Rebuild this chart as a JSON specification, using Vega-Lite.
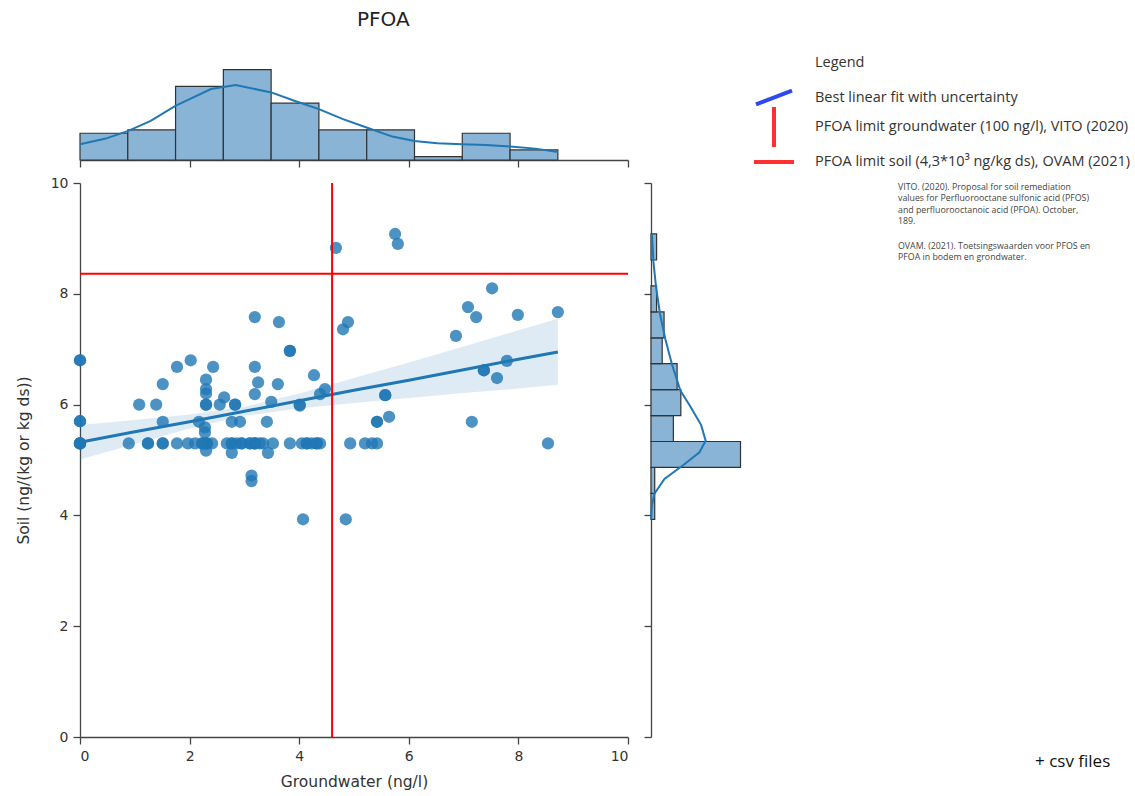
{
  "$schema": "https://vega.github.io/schema/vega-lite/v6.json",
  "background": "white",
  "padding": {"left": 16, "top": 10, "right": 0, "bottom": 0},
  "title": {"text": "PFOA", "frame": "group", "anchor": "start", "dx": 277, "offset": 26, "font": "DejaVu Sans", "fontSize": 20, "fontWeight": "normal", "color": "#222"},
  "datasets": {
    "points": [
      {"gw":0,"soil":6.8},{"gw":0,"soil":5.7},{"gw":0,"soil":5.3},{"gw":0,"soil":5.3},{"gw":0,"soil":5.3},{"gw":0,"soil":5.3},{"gw":0,"soil":6.8},{"gw":0,"soil":5.7},
      {"gw":0.89,"soil":5.3},{"gw":1.08,"soil":6.0},{"gw":1.24,"soil":5.3},{"gw":1.39,"soil":6.0},{"gw":1.51,"soil":6.37},{"gw":1.51,"soil":5.69},{"gw":1.51,"soil":5.3},{"gw":1.24,"soil":5.3},{"gw":1.51,"soil":5.3},
      {"gw":1.77,"soil":6.68},{"gw":1.77,"soil":5.3},{"gw":2.02,"soil":6.8},{"gw":1.97,"soil":5.3},{"gw":2.1,"soil":5.3},{"gw":2.17,"soil":5.69},{"gw":2.23,"soil":5.3},{"gw":2.3,"soil":6.45},{"gw":2.3,"soil":6.28},{"gw":2.3,"soil":6.2},{"gw":2.3,"soil":6.0},{"gw":2.28,"soil":5.59},{"gw":2.28,"soil":5.5},{"gw":2.32,"soil":5.3},{"gw":2.3,"soil":5.17},{"gw":2.41,"soil":5.3},{"gw":2.43,"soil":6.68},{"gw":2.55,"soil":6.0},{"gw":2.3,"soil":5.3},{"gw":2.3,"soil":5.3},{"gw":2.23,"soil":5.3},{"gw":2.3,"soil":6.0},
      {"gw":2.63,"soil":6.13},{"gw":2.68,"soil":5.3},{"gw":2.77,"soil":5.69},{"gw":2.77,"soil":5.3},{"gw":2.77,"soil":5.13},{"gw":2.83,"soil":6.0},{"gw":2.86,"soil":5.3},{"gw":2.92,"soil":5.69},{"gw":2.95,"soil":5.3},{"gw":3.1,"soil":5.3},{"gw":3.13,"soil":4.72},{"gw":3.13,"soil":4.62},{"gw":3.19,"soil":7.58},{"gw":3.19,"soil":6.68},{"gw":3.25,"soil":6.4},{"gw":3.19,"soil":6.19},{"gw":3.19,"soil":5.3},{"gw":3.28,"soil":5.3},{"gw":3.34,"soil":5.3},{"gw":3.41,"soil":5.69},{"gw":3.43,"soil":5.13},{"gw":2.77,"soil":5.3},{"gw":3.19,"soil":5.3},{"gw":3.19,"soil":5.3},{"gw":2.95,"soil":5.3},{"gw":3.1,"soil":5.3},{"gw":2.83,"soil":6.0},
      {"gw":3.49,"soil":6.05},{"gw":3.52,"soil":5.3},{"gw":3.61,"soil":6.37},{"gw":3.63,"soil":7.49},{"gw":3.83,"soil":6.97},{"gw":3.83,"soil":5.3},{"gw":4.01,"soil":5.98},{"gw":4.05,"soil":5.3},{"gw":4.07,"soil":3.93},{"gw":4.14,"soil":5.3},{"gw":4.23,"soil":5.3},{"gw":4.27,"soil":6.53},{"gw":4.32,"soil":5.3},{"gw":4.14,"soil":5.3},{"gw":4.32,"soil":5.3},{"gw":4.01,"soil":6.0},{"gw":3.83,"soil":6.97},
      {"gw":4.38,"soil":6.19},{"gw":4.38,"soil":5.3},{"gw":4.47,"soil":6.28},{"gw":4.67,"soil":8.83},{"gw":4.8,"soil":7.36},{"gw":4.89,"soil":7.49},{"gw":4.85,"soil":3.93},{"gw":4.93,"soil":5.3},{"gw":5.2,"soil":5.3},
      {"gw":5.33,"soil":5.3},{"gw":5.42,"soil":5.3},{"gw":5.42,"soil":5.69},{"gw":5.64,"soil":5.78},{"gw":5.57,"soil":6.17},{"gw":5.75,"soil":9.08},{"gw":5.8,"soil":8.9},{"gw":5.57,"soil":6.17},{"gw":5.42,"soil":5.69},
      {"gw":6.86,"soil":7.24},
      {"gw":7.08,"soil":7.76},{"gw":7.23,"soil":7.58},{"gw":7.37,"soil":6.62},{"gw":7.52,"soil":8.1},{"gw":7.61,"soil":6.48},{"gw":7.79,"soil":6.79},{"gw":7.15,"soil":5.69},{"gw":7.37,"soil":6.62},
      {"gw":7.99,"soil":7.62},{"gw":8.54,"soil":5.3},{"gw":8.72,"soil":7.67}
    ],
    "fit": [
      {"gw":0,"soil":5.32,"lo":5.01,"hi":5.63},
      {"gw":1,"soil":5.51,"lo":5.29,"hi":5.72},
      {"gw":2,"soil":5.69,"lo":5.57,"hi":5.82},
      {"gw":3,"soil":5.88,"lo":5.80,"hi":5.96},
      {"gw":4,"soil":6.07,"lo":5.93,"hi":6.20},
      {"gw":5,"soil":6.26,"lo":6.03,"hi":6.48},
      {"gw":6,"soil":6.44,"lo":6.12,"hi":6.76},
      {"gw":7,"soil":6.63,"lo":6.21,"hi":7.05},
      {"gw":8,"soil":6.82,"lo":6.29,"hi":7.34},
      {"gw":8.72,"soil":6.95,"lo":6.36,"hi":7.55}
    ],
    "limits": [{"gw": 4.6, "soil": 8.36}],
    "topbins": [
      {"gw":0,"gw_end":0.872,"count":8},
      {"gw":0.872,"gw_end":1.744,"count":9},
      {"gw":1.744,"gw_end":2.616,"count":22},
      {"gw":2.616,"gw_end":3.488,"count":27},
      {"gw":3.488,"gw_end":4.36,"count":17},
      {"gw":4.36,"gw_end":5.232,"count":9},
      {"gw":5.232,"gw_end":6.104,"count":9},
      {"gw":6.104,"gw_end":6.976,"count":1},
      {"gw":6.976,"gw_end":7.848,"count":8},
      {"gw":7.848,"gw_end":8.72,"count":3}
    ],
    "topkde": [
      {"gw":0,"count":4.7},{"gw":0.47,"count":6.4},{"gw":0.88,"count":8.7},{"gw":1.29,"count":11.7},{"gw":1.74,"count":16.2},{"gw":2.39,"count":21.2},{"gw":2.84,"count":22.4},{"gw":3.49,"count":20.2},{"gw":3.91,"count":17.7},{"gw":4.36,"count":15.2},{"gw":4.8,"count":12.2},{"gw":5.23,"count":9.7},{"gw":5.7,"count":7.0},{"gw":6.1,"count":5.7},{"gw":6.52,"count":5.0},{"gw":6.97,"count":4.7},{"gw":7.41,"count":4.5},{"gw":7.85,"count":4.0},{"gw":8.31,"count":3.4},{"gw":8.72,"count":2.4}
    ],
    "rightbins": [
      {"soil":3.93,"soil_end":4.398,"count":2},
      {"soil":4.398,"soil_end":4.866,"count":2},
      {"soil":4.866,"soil_end":5.334,"count":48},
      {"soil":5.334,"soil_end":5.802,"count":12},
      {"soil":5.802,"soil_end":6.27,"count":16},
      {"soil":6.27,"soil_end":6.738,"count":14},
      {"soil":6.738,"soil_end":7.206,"count":6},
      {"soil":7.206,"soil_end":7.674,"count":7},
      {"soil":7.674,"soil_end":8.142,"count":3},
      {"soil":8.61,"soil_end":9.08,"count":3}
    ],
    "rightkde": [
      {"soil":3.93,"count":0.1},{"soil":4.18,"count":0.5},{"soil":4.39,"count":1.8},{"soil":4.66,"count":7.2},{"soil":4.9,"count":17},{"soil":5.14,"count":26},{"soil":5.35,"count":29.3},{"soil":5.63,"count":26.9},{"soil":5.99,"count":20.7},{"soil":6.25,"count":15.8},{"soil":6.72,"count":11.3},{"soil":7.18,"count":7.7},{"soil":7.64,"count":4.8},{"soil":8.12,"count":2.7},{"soil":8.58,"count":1.3},{"soil":9.08,"count":0.5}
    ],
    "legenditems": [
      {"row": 1, "item": "Best linear fit with uncertainty"},
      {"row": 2, "item": "PFOA limit groundwater (100 ng/l), VITO (2020)"},
      {"row": 3, "item": "PFOA limit soil (4,3*10³ ng/kg ds), OVAM (2021)"}
    ]
  },
  "columns": 2,
  "spacing": 23,
  "bounds": "flush",
  "align": "each",
  "resolve": {"scale": {"x": "independent", "y": "independent", "color": "independent", "shape": "independent"}},
  "concat": [
    {
      "width": 548,
      "height": 95,
      "title": {
        "text": ["VITO. (2020). Proposal for soil remediation", "values for Perfluorooctane sulfonic acid (PFOS)", "and perfluorooctanoic acid (PFOA). October,", "189."],
        "subtitle": ["OVAM. (2021). Toetsingswaarden voor PFOS en", "PFOA in bodem en grondwater."],
        "orient": "bottom", "anchor": "start", "frame": "group", "baseline": "top", "dx": 818, "offset": 15,
        "font": "Open Sans", "fontSize": 8.8, "lineHeight": 11.5, "fontWeight": "normal", "color": "#444",
        "subtitleFont": "Open Sans", "subtitleFontSize": 8.8, "subtitleLineHeight": 11.5, "subtitleColor": "#444", "subtitlePadding": 16
      },
      "encoding": {
        "x": {"field": "gw", "type": "quantitative", "title": null, "scale": {"domain": [0, 10], "nice": false, "zero": false}, "axis": {"values": [0, 2, 4, 6, 8, 10], "labels": false, "title": null}},
        "y": {"field": "count", "type": "quantitative", "title": null, "scale": {"domain": [0, 28.4], "nice": false}, "axis": null}
      },
      "layer": [
        {"data": {"name": "topbins"}, "mark": {"type": "rect", "fill": "#89b4d6", "stroke": "#333333", "strokeWidth": 1.2}, "encoding": {"x2": {"field": "gw_end"}, "y2": {"datum": 0}}},
        {"data": {"name": "topkde"}, "mark": {"type": "line", "color": "#1f77b4", "strokeWidth": 2}, "encoding": {}}
      ]
    },
    {
      "width": 94,
      "height": 95,
      "data": {"name": "legenditems"},
      "resolve": {"scale": {"shape": "independent"}, "legend": {"shape": "independent"}},
      "layer": [
        {
          "transform": [{"filter": "datum.row == 1"}],
          "mark": {"type": "point", "filled": false, "opacity": 0, "color": "#2f47f0"},
          "encoding": {
            "shape": {"field": "item", "type": "nominal", "title": "Legend", "scale": {"range": ["M-1.5,0.58L1.5,-0.58"]},
              "legend": {"orient": "none", "legendX": 164, "legendY": -9, "symbolSize": 576, "symbolStrokeWidth": 4, "symbolOpacity": 1, "symbolFillColor": "transparent", "symbolStrokeColor": "#2f47f0", "symbolOffset": -55, "labelOffset": 27, "titlePadding": 13, "labelLimit": 500,
                "encode": {"symbols": {"update": {"strokeCap": {"value": "round"}}}}}}
          }
        },
        {
          "transform": [{"filter": "datum.row == 2"}],
          "mark": {"type": "point", "filled": false, "opacity": 0, "color": "#ff3030"},
          "encoding": {
            "shape": {"field": "item", "type": "nominal", "title": null, "scale": {"range": ["M0,-1.67L0,1.67"]},
              "legend": {"orient": "none", "legendX": 164, "legendY": 48, "symbolSize": 576, "symbolStrokeWidth": 4, "symbolOpacity": 1, "symbolFillColor": "transparent", "symbolStrokeColor": "#ff3030", "symbolOffset": -55, "labelOffset": 27, "labelLimit": 500,
                "encode": {"symbols": {"update": {"strokeCap": {"value": "round"}}}}}}
          }
        },
        {
          "transform": [{"filter": "datum.row == 3"}],
          "mark": {"type": "point", "filled": false, "opacity": 0, "color": "#ff3030"},
          "encoding": {
            "shape": {"field": "item", "type": "nominal", "title": null, "scale": {"range": ["M-1.67,0L1.67,0"]},
              "legend": {"orient": "none", "legendX": 164, "legendY": 83, "symbolSize": 576, "symbolStrokeWidth": 4, "symbolOpacity": 1, "symbolFillColor": "transparent", "symbolStrokeColor": "#ff3030", "symbolOffset": -55, "labelOffset": 27, "labelLimit": 500,
                "encode": {"symbols": {"update": {"strokeCap": {"value": "round"}}}}}}
          }
        }
      ]
    },
    {
      "width": 548,
      "height": 554,
      "layer": [
        {"data": {"name": "points"}, "mark": {"type": "circle", "size": 150, "color": "#1f77b4", "opacity": 0.8},
          "encoding": {
            "x": {"field": "gw", "type": "quantitative", "title": "Groundwater (ng/l)", "scale": {"domain": [0, 10], "nice": false, "zero": false}, "axis": {"values": [0, 2, 4, 6, 8, 10]}},
            "y": {"field": "soil", "type": "quantitative", "title": "Soil (ng/(kg or kg ds))", "scale": {"domain": [0, 10], "nice": false, "zero": false}, "axis": {"values": [0, 2, 4, 6, 8, 10]}}
          }},
        {"data": {"name": "fit"}, "mark": {"type": "area", "color": "#1f77b4", "opacity": 0.15},
          "encoding": {
            "x": {"field": "gw", "type": "quantitative", "title": "Groundwater (ng/l)"},
            "y": {"field": "lo", "type": "quantitative", "title": "Soil (ng/(kg or kg ds))"},
            "y2": {"field": "hi"}
          }},
        {"data": {"name": "fit"}, "mark": {"type": "line", "color": "#1f77b4", "strokeWidth": 3},
          "encoding": {
            "x": {"field": "gw", "type": "quantitative", "title": "Groundwater (ng/l)"},
            "y": {"field": "soil", "type": "quantitative", "title": "Soil (ng/(kg or kg ds))"}
          }},
        {"data": {"name": "limits"}, "mark": {"type": "rule", "color": "#ff0000", "strokeWidth": 2},
          "encoding": {"x": {"field": "gw", "type": "quantitative", "title": "Groundwater (ng/l)"}}},
        {"data": {"name": "limits"}, "mark": {"type": "rule", "color": "#ff0000", "strokeWidth": 2},
          "encoding": {"y": {"field": "soil", "type": "quantitative", "title": "Soil (ng/(kg or kg ds))"}}}
      ]
    },
    {
      "width": 94,
      "height": 554,
      "title": {"text": "+ csv files", "orient": "bottom", "anchor": "start", "frame": "group", "baseline": "top", "dx": 384, "offset": 16, "font": "Open Sans", "fontSize": 17, "fontWeight": "normal", "color": "#111"},
      "encoding": {
        "y": {"field": "soil", "type": "quantitative", "title": null, "scale": {"domain": [0, 10], "nice": false, "zero": false}, "axis": {"values": [0, 2, 4, 6, 8, 10], "labels": false, "title": null}},
        "x": {"field": "count", "type": "quantitative", "title": null, "scale": {"domain": [0, 50.4], "nice": false}, "axis": null}
      },
      "layer": [
        {"data": {"name": "rightbins"}, "mark": {"type": "rect", "fill": "#89b4d6", "stroke": "#333333", "strokeWidth": 1.2}, "encoding": {"y2": {"field": "soil_end"}, "x2": {"datum": 0}}},
        {"data": {"name": "rightkde"}, "mark": {"type": "line", "color": "#1f77b4", "strokeWidth": 2}, "encoding": {"order": {"field": "soil", "type": "quantitative"}}}
      ]
    }
  ],
  "config": {
    "view": {"stroke": null},
    "axis": {"grid": false, "labelFont": "DejaVu Sans", "labelFontSize": 14, "labelColor": "#333", "titleFont": "DejaVu Sans", "titleFontSize": 15.5, "titleFontWeight": "normal", "titleColor": "#333", "domainColor": "#444", "domainWidth": 1.3, "tickColor": "#444", "tickWidth": 1.3, "tickSize": 7, "labelPadding": 5},
    "axisX": {"titlePadding": 11},
    "axisY": {"titlePadding": 19},
    "legend": {"labelFont": "Open Sans", "labelFontSize": 14.5, "labelColor": "#333", "titleFont": "Open Sans", "titleFontSize": 14.5, "titleFontWeight": "normal", "titleColor": "#333"}
  }
}
